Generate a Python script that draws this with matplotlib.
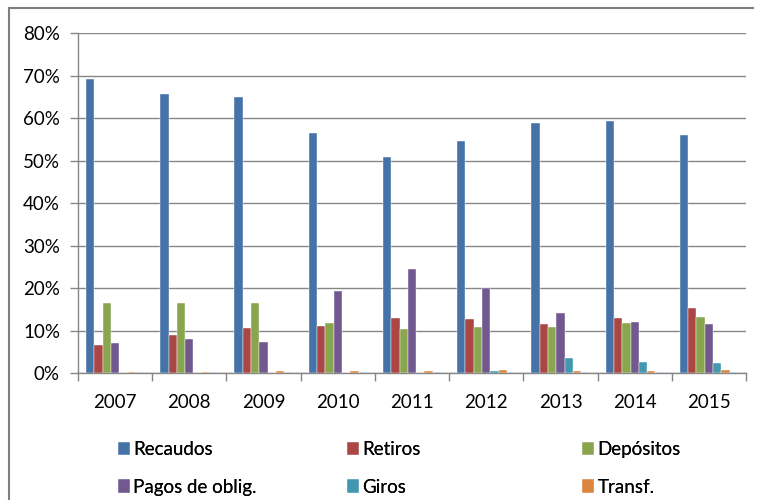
import numpy as np
import matplotlib.pyplot as plt
from matplotlib.patches import Patch
from matplotlib.lines import Line2D

plt.rcParams['font.family'] = ['Lato', 'DejaVu Sans']

# Datos
years = ['2007', '2008', '2009', '2010', '2011', '2012', '2013', '2014', '2015']
recaudos = [69.3, 65.7, 65.0, 56.5, 50.8, 54.7, 58.9, 59.4, 56.0]
retiros = [6.6, 8.9, 10.7, 11.2, 13.1, 12.8, 11.5, 13.0, 15.4]
depositos = [16.6, 16.6, 16.6, 11.8, 10.4, 11.0, 11.0, 11.8, 13.3]
pagos = [7.2, 8.1, 7.4, 19.4, 24.6, 20.0, 14.1, 12.0, 11.5]
giros = [0.0, 0.0, 0.0, 0.0, 0.0, 0.5, 3.7, 2.6, 2.4]
transf = [0.3, 0.3, 0.55, 0.55, 0.5, 0.8, 0.5, 0.5, 0.8]
otros = [0.3, 0.3, 0.3, 0.3, 0.3, 0.3, 0.3, 0.3, 0.3]

series = [recaudos, retiros, depositos, pagos, giros, transf, otros]
labels = ['Recaudos', 'Retiros', 'Depósitos', 'Pagos de oblig.', 'Giros', 'Transf.', '_nolegend_']
colors = ['#4572A7', '#AA4643', '#89A54E', '#71588F', '#4198AF', '#DB843D', '#93A9CF']

fs = 13.5

fig = plt.figure(figsize=(7.58, 5.0), dpi=100)
ax = fig.add_axes([78 / 758, 1 - 373.3 / 500, 668 / 758, (373.3 - 33) / 500])

x = np.arange(len(years))
w = 0.112
n = len(series)
for i, (vals, lab, col) in enumerate(zip(series, labels, colors)):
    ax.bar(x + (i - (n - 1) / 2) * w, vals, width=w, color=col, label=lab,
           edgecolor='white', linewidth=0.3, zorder=3)

ax.set_xlim(-0.5, len(years) - 0.5)
ax.set_ylim(0, 80)
ax.set_yticks(np.arange(0, 81, 10))
ax.set_yticklabels([f'{v}%' for v in range(0, 81, 10)], fontsize=fs)
ax.set_xticks(x)
ax.set_xticklabels(years, fontsize=fs)
ax.set_xticks(np.arange(-0.5, len(years), 1), minor=True)
ax.tick_params(axis='x', which='major', length=0, pad=15)
ax.tick_params(axis='x', which='minor', length=6, color='#868686', width=1)
ax.tick_params(axis='y', length=6, color='#868686', width=1, pad=7)
ax.grid(axis='y', color='#868686', linewidth=1, zorder=0)

for s in ['top', 'right']:
    ax.spines[s].set_visible(False)
for s in ['left', 'bottom']:
    ax.spines[s].set_color('#868686')
    ax.spines[s].set_linewidth(1)

# Leyenda en tres columnas
handles = [Patch(facecolor=c, edgecolor='white', linewidth=0.3) for c in colors[:6]]
col_x = [118 / 758, 347 / 758, 582 / 758]
for j in range(3):
    leg = fig.legend([handles[j], handles[j + 3]], [labels[j], labels[j + 3]],
                     loc='upper left', bbox_to_anchor=(col_x[j], 1 - 441 / 500),
                     frameon=False, fontsize=fs, handlelength=0.62, handleheight=0.72,
                     handletextpad=0.2, labelspacing=1.1, borderaxespad=0, borderpad=0)
    fig.add_artist(leg)

# Borde del gráfico (superior e izquierdo)
fig.add_artist(Line2D([9 / 758, 9 / 758], [0, 1 - 8 / 500], transform=fig.transFigure,
                      color='#7f7f7f', linewidth=1.5))
fig.add_artist(Line2D([9 / 758, 753 / 758], [1 - 8 / 500, 1 - 8 / 500], transform=fig.transFigure,
                      color='#7f7f7f', linewidth=1.5))

plt.savefig('out.png', dpi=100)
